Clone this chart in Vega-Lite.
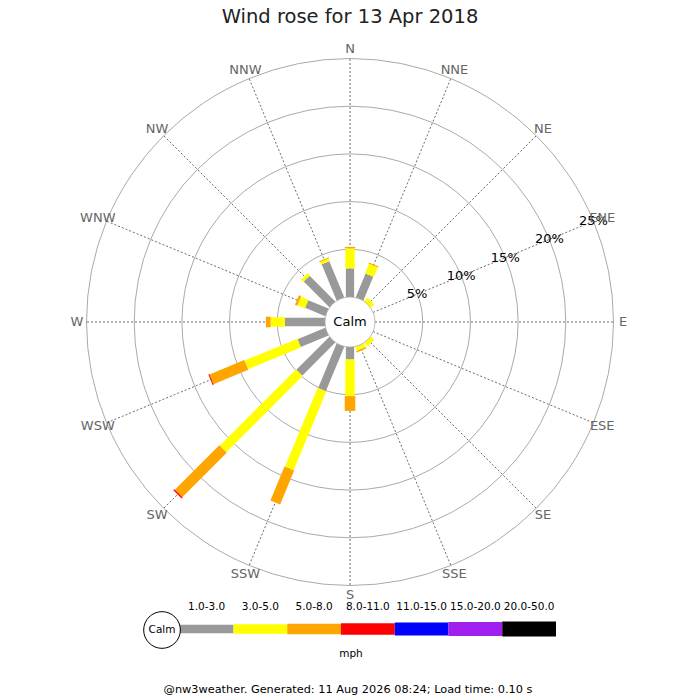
{
  "$schema": "https://vega.github.io/schema/vega-lite/v6.json",
  "width": 700,
  "height": 665,
  "autosize": "none",
  "padding": {"left": 0, "right": 0, "top": 35, "bottom": 0},
  "title": {"text": "Wind rose for 13 Apr 2018", "fontSize": 19.5, "fontWeight": "normal", "color": "#222222", "offset": 8},
  "config": {"view": {"stroke": null}, "font": "DejaVu Sans"},
  "datasets": {
    "dirs": [
      {"dir": "N", "bearing": 0}, {"dir": "NNE", "bearing": 22.5}, {"dir": "NE", "bearing": 45}, {"dir": "ENE", "bearing": 67.5},
      {"dir": "E", "bearing": 90}, {"dir": "ESE", "bearing": 112.5}, {"dir": "SE", "bearing": 135}, {"dir": "SSE", "bearing": 157.5},
      {"dir": "S", "bearing": 180}, {"dir": "SSW", "bearing": 202.5}, {"dir": "SW", "bearing": 225}, {"dir": "WSW", "bearing": 247.5},
      {"dir": "W", "bearing": 270}, {"dir": "WNW", "bearing": 292.5}, {"dir": "NW", "bearing": 315}, {"dir": "NNW", "bearing": 337.5}
    ],
    "freq": [
      {"dir": "N", "bearing": 0, "speed": "1.0-3.0", "order": 1, "pct": 3.0},
      {"dir": "N", "bearing": 0, "speed": "3.0-5.0", "order": 2, "pct": 2.1},
      {"dir": "N", "bearing": 0, "speed": "5.0-8.0", "order": 3, "pct": 0.15},
      {"dir": "NNE", "bearing": 22.5, "speed": "1.0-3.0", "order": 1, "pct": 2.7},
      {"dir": "NNE", "bearing": 22.5, "speed": "3.0-5.0", "order": 2, "pct": 1.1},
      {"dir": "NNE", "bearing": 22.5, "speed": "5.0-8.0", "order": 3, "pct": 0.1},
      {"dir": "NE", "bearing": 45, "speed": "3.0-5.0", "order": 2, "pct": 0.5},
      {"dir": "SE", "bearing": 135, "speed": "3.0-5.0", "order": 2, "pct": 0.5},
      {"dir": "SSE", "bearing": 157.5, "speed": "3.0-5.0", "order": 2, "pct": 0.45},
      {"dir": "SSE", "bearing": 157.5, "speed": "5.0-8.0", "order": 3, "pct": 0.15},
      {"dir": "S", "bearing": 180, "speed": "1.0-3.0", "order": 1, "pct": 1.3},
      {"dir": "S", "bearing": 180, "speed": "3.0-5.0", "order": 2, "pct": 3.85},
      {"dir": "S", "bearing": 180, "speed": "5.0-8.0", "order": 3, "pct": 1.55},
      {"dir": "SSW", "bearing": 202.5, "speed": "1.0-3.0", "order": 1, "pct": 5.05},
      {"dir": "SSW", "bearing": 202.5, "speed": "3.0-5.0", "order": 2, "pct": 8.95},
      {"dir": "SSW", "bearing": 202.5, "speed": "5.0-8.0", "order": 3, "pct": 3.85},
      {"dir": "SW", "bearing": 225, "speed": "1.0-3.0", "order": 1, "pct": 4.9},
      {"dir": "SW", "bearing": 225, "speed": "3.0-5.0", "order": 2, "pct": 11.3},
      {"dir": "SW", "bearing": 225, "speed": "5.0-8.0", "order": 3, "pct": 6.6},
      {"dir": "SW", "bearing": 225, "speed": "8.0-11.0", "order": 4, "pct": 0.15},
      {"dir": "WSW", "bearing": 247.5, "speed": "1.0-3.0", "order": 1, "pct": 3.15},
      {"dir": "WSW", "bearing": 247.5, "speed": "3.0-5.0", "order": 2, "pct": 6.0},
      {"dir": "WSW", "bearing": 247.5, "speed": "5.0-8.0", "order": 3, "pct": 3.95},
      {"dir": "WSW", "bearing": 247.5, "speed": "8.0-11.0", "order": 4, "pct": 0.1},
      {"dir": "W", "bearing": 270, "speed": "1.0-3.0", "order": 1, "pct": 4.2},
      {"dir": "W", "bearing": 270, "speed": "3.0-5.0", "order": 2, "pct": 1.5},
      {"dir": "W", "bearing": 270, "speed": "5.0-8.0", "order": 3, "pct": 0.5},
      {"dir": "WNW", "bearing": 292.5, "speed": "1.0-3.0", "order": 1, "pct": 2.3},
      {"dir": "WNW", "bearing": 292.5, "speed": "3.0-5.0", "order": 2, "pct": 0.85},
      {"dir": "WNW", "bearing": 292.5, "speed": "5.0-8.0", "order": 3, "pct": 0.25},
      {"dir": "NW", "bearing": 315, "speed": "1.0-3.0", "order": 1, "pct": 3.8},
      {"dir": "NW", "bearing": 315, "speed": "3.0-5.0", "order": 2, "pct": 0.35},
      {"dir": "NNW", "bearing": 337.5, "speed": "1.0-3.0", "order": 1, "pct": 4.1},
      {"dir": "NNW", "bearing": 337.5, "speed": "3.0-5.0", "order": 2, "pct": 0.3},
      {"dir": "NNW", "bearing": 337.5, "speed": "5.0-8.0", "order": 3, "pct": 0.1}
    ],
    "rings": [
      {"pct": 0, "label": ""}, {"pct": 5, "label": "5%"}, {"pct": 10, "label": "10%"},
      {"pct": 15, "label": "15%"}, {"pct": 20, "label": "20%"}, {"pct": 25, "label": "25%"}
    ],
    "legend": [
      {"speed": "Calm"}, {"speed": "1.0-3.0"}, {"speed": "3.0-5.0"}, {"speed": "5.0-8.0"},
      {"speed": "8.0-11.0"}, {"speed": "11.0-15.0"}, {"speed": "15.0-20.0"}, {"speed": "20.0-50.0"}
    ],
    "notes": [{"calm": "Calm", "unit": "mph", "footer": "@nw3weather. Generated: 11 Aug 2026 08:24; Load time: 0.10 s"}]
  },
  "resolve": {"scale": {"x": "independent"}},
  "layer": [
    {
      "layer": [
        {
          "data": {"name": "rings"},
          "transform": [{"filter": "datum.pct > 0"}, {"calculate": "25 + 9.54 * datum.pct", "as": "r"}],
          "mark": {"type": "arc", "theta": 0, "theta2": 6.2832, "filled": false, "stroke": "#aaaaaa", "strokeWidth": 1},
          "encoding": {
            "x": {"datum": 0, "type": "quantitative", "scale": {"domain": [-350, 350], "nice": false, "zero": false}, "axis": null},
            "y": {"datum": 0, "type": "quantitative", "scale": {"domain": [-378, 287], "nice": false, "zero": false}, "axis": null},
            "radius": {"field": "r", "type": "quantitative", "scale": null, "stack": null}
          }
        },
        {
          "data": {"name": "dirs"},
          "transform": [
            {"calculate": "datum.bearing * PI / 180", "as": "a"},
            {"calculate": "25 * sin(datum.a)", "as": "x0"},
            {"calculate": "25 * cos(datum.a)", "as": "y0"},
            {"calculate": "263.5 * sin(datum.a)", "as": "x1"},
            {"calculate": "263.5 * cos(datum.a)", "as": "y1"}
          ],
          "mark": {"type": "rule", "color": "#444444", "strokeWidth": 0.8, "strokeDash": [2, 2]},
          "encoding": {
            "x": {"field": "x0", "type": "quantitative", "scale": {"domain": [-350, 350], "nice": false, "zero": false}, "axis": null},
            "y": {"field": "y0", "type": "quantitative", "scale": {"domain": [-378, 287], "nice": false, "zero": false}, "axis": null},
            "x2": {"field": "x1"},
            "y2": {"field": "y1"}
          }
        },
        {
          "data": {"name": "freq"},
          "transform": [
            {"stack": "pct", "groupby": ["dir"], "sort": [{"field": "order", "order": "ascending"}], "as": ["p0", "p1"]},
            {"calculate": "datum.bearing * PI / 180", "as": "a"},
            {"calculate": "(25 + 9.54 * datum.p0) * sin(datum.a)", "as": "x0"},
            {"calculate": "(25 + 9.54 * datum.p0) * cos(datum.a)", "as": "y0"},
            {"calculate": "(25 + 9.54 * datum.p1) * sin(datum.a)", "as": "x1"},
            {"calculate": "(25 + 9.54 * datum.p1) * cos(datum.a)", "as": "y1"}
          ],
          "mark": {"type": "rule", "strokeCap": "butt"},
          "encoding": {
            "x": {"field": "x0", "type": "quantitative", "scale": {"domain": [-350, 350], "nice": false, "zero": false}, "axis": null},
            "y": {"field": "y0", "type": "quantitative", "scale": {"domain": [-378, 287], "nice": false, "zero": false}, "axis": null},
            "x2": {"field": "x1"},
            "y2": {"field": "y1"},
            "color": {"field": "speed", "type": "nominal", "legend": null,
              "scale": {"domain": ["1.0-3.0", "3.0-5.0", "5.0-8.0", "8.0-11.0", "11.0-15.0", "15.0-20.0", "20.0-50.0"],
                        "range": ["#999999", "#ffff00", "#ffa500", "#ff0000", "#0000ff", "#a020f0", "#000000"]}},
            "strokeWidth": {"field": "speed", "type": "ordinal", "legend": null,
              "scale": {"domain": ["1.0-3.0", "3.0-5.0", "5.0-8.0", "8.0-11.0", "11.0-15.0", "15.0-20.0", "20.0-50.0"],
                        "range": [8.3, 15, 20.5, 22.5, 25, 27, 28.3]}}
          }
        },
        {
          "data": {"name": "rings"},
          "transform": [{"filter": "datum.pct == 0"}, {"calculate": "25 + 9.54 * datum.pct", "as": "r"}],
          "mark": {"type": "arc", "theta": 0, "theta2": 6.2832, "fill": "#ffffff", "stroke": "#aaaaaa", "strokeWidth": 0.8},
          "encoding": {
            "x": {"datum": 0, "type": "quantitative", "scale": {"domain": [-350, 350], "nice": false, "zero": false}, "axis": null},
            "y": {"datum": 0, "type": "quantitative", "scale": {"domain": [-378, 287], "nice": false, "zero": false}, "axis": null},
            "radius": {"field": "r", "type": "quantitative", "scale": null, "stack": null}
          }
        },
        {
          "data": {"name": "notes"},
          "mark": {"type": "text", "fontSize": 13, "color": "#000000", "align": "center", "baseline": "middle"},
          "encoding": {
            "x": {"datum": 0, "type": "quantitative", "scale": {"domain": [-350, 350], "nice": false, "zero": false}, "axis": null},
            "y": {"datum": 0, "type": "quantitative", "scale": {"domain": [-378, 287], "nice": false, "zero": false}, "axis": null},
            "text": {"field": "calm"}
          }
        },
        {
          "data": {"name": "rings"},
          "transform": [
            {"filter": "datum.pct > 0"},
            {"calculate": "25 + 9.54 * datum.pct", "as": "r"},
            {"calculate": "datum.r * sin(67.5 * PI / 180)", "as": "lx"},
            {"calculate": "datum.r * cos(67.5 * PI / 180)", "as": "ly"}
          ],
          "mark": {"type": "text", "fontSize": 13, "color": "#000000", "align": "center", "baseline": "middle"},
          "encoding": {
            "x": {"field": "lx", "type": "quantitative", "scale": {"domain": [-350, 350], "nice": false, "zero": false}, "axis": null},
            "y": {"field": "ly", "type": "quantitative", "scale": {"domain": [-378, 287], "nice": false, "zero": false}, "axis": null},
            "text": {"field": "label"}
          }
        },
        {
          "data": {"name": "dirs"},
          "transform": [
            {"calculate": "datum.bearing * PI / 180", "as": "a"},
            {"calculate": "273 * sin(datum.a)", "as": "lx"},
            {"calculate": "273 * cos(datum.a)", "as": "ly"}
          ],
          "mark": {"type": "text", "fontSize": 13, "color": "#666666", "align": "center", "baseline": "middle"},
          "encoding": {
            "x": {"field": "lx", "type": "quantitative", "scale": {"domain": [-350, 350], "nice": false, "zero": false}, "axis": null},
            "y": {"field": "ly", "type": "quantitative", "scale": {"domain": [-378, 287], "nice": false, "zero": false}, "axis": null},
            "text": {"field": "dir"}
          }
        },
        {
          "data": {"name": "notes"},
          "mark": {"type": "text", "fontSize": 10.5, "color": "#000000", "align": "center", "baseline": "middle"},
          "encoding": {
            "x": {"datum": 1, "type": "quantitative", "scale": {"domain": [-350, 350], "nice": false, "zero": false}, "axis": null},
            "y": {"datum": -332, "type": "quantitative", "scale": {"domain": [-378, 287], "nice": false, "zero": false}, "axis": null},
            "text": {"field": "unit"}
          }
        },
        {
          "data": {"name": "notes"},
          "mark": {"type": "text", "fontSize": 11.3, "color": "#000000", "align": "center", "baseline": "middle"},
          "encoding": {
            "x": {"datum": -2, "type": "quantitative", "scale": {"domain": [-350, 350], "nice": false, "zero": false}, "axis": null},
            "y": {"datum": -368, "type": "quantitative", "scale": {"domain": [-378, 287], "nice": false, "zero": false}, "axis": null},
            "text": {"field": "footer"}
          }
        }
      ]
    },
    {
      "data": {"name": "legend"},
      "layer": [
        {
          "transform": [{"filter": "datum.speed != 'Calm'"}],
          "mark": {"type": "rule", "strokeCap": "butt"},
          "encoding": {
            "x": {"field": "speed", "type": "nominal", "bandPosition": 0, "axis": null,
              "scale": {"type": "band", "domain": ["Calm", "1.0-3.0", "3.0-5.0", "5.0-8.0", "8.0-11.0", "11.0-15.0", "15.0-20.0", "20.0-50.0"], "range": [126, 556], "paddingInner": 0, "paddingOuter": 0}},
            "x2": {"field": "speed", "bandPosition": 1},
            "y": {"datum": -307, "type": "quantitative", "scale": {"domain": [-378, 287], "nice": false, "zero": false}, "axis": null},
            "color": {"field": "speed", "type": "nominal", "legend": null,
              "scale": {"domain": ["1.0-3.0", "3.0-5.0", "5.0-8.0", "8.0-11.0", "11.0-15.0", "15.0-20.0", "20.0-50.0"],
                        "range": ["#999999", "#ffff00", "#ffa500", "#ff0000", "#0000ff", "#a020f0", "#000000"]}},
            "strokeWidth": {"field": "speed", "type": "ordinal", "legend": null,
              "scale": {"domain": ["1.0-3.0", "3.0-5.0", "5.0-8.0", "8.0-11.0", "11.0-15.0", "15.0-20.0", "20.0-50.0"],
                        "range": [8.3, 15, 20.5, 22.5, 25, 27, 28.3]}}
          }
        },
        {
          "transform": [{"filter": "datum.speed != 'Calm'"}],
          "mark": {"type": "text", "fontSize": 10.5, "color": "#000000", "align": "center", "baseline": "middle"},
          "encoding": {
            "x": {"field": "speed", "type": "nominal", "bandPosition": 0.5, "axis": null,
              "scale": {"type": "band", "domain": ["Calm", "1.0-3.0", "3.0-5.0", "5.0-8.0", "8.0-11.0", "11.0-15.0", "15.0-20.0", "20.0-50.0"], "range": [126, 556], "paddingInner": 0, "paddingOuter": 0}},
            "y": {"datum": -285, "type": "quantitative", "scale": {"domain": [-378, 287], "nice": false, "zero": false}, "axis": null},
            "text": {"field": "speed"}
          }
        },
        {
          "transform": [{"filter": "datum.speed == 'Calm'"}],
          "mark": {"type": "point", "shape": "circle", "size": 1345, "filled": true, "fill": "#ffffff", "stroke": "#000000", "strokeWidth": 1, "opacity": 1},
          "encoding": {
            "x": {"field": "speed", "type": "nominal", "bandPosition": 0.67, "axis": null,
              "scale": {"type": "band", "domain": ["Calm", "1.0-3.0", "3.0-5.0", "5.0-8.0", "8.0-11.0", "11.0-15.0", "15.0-20.0", "20.0-50.0"], "range": [126, 556], "paddingInner": 0, "paddingOuter": 0}},
            "y": {"datum": -308, "type": "quantitative", "scale": {"domain": [-378, 287], "nice": false, "zero": false}, "axis": null}
          }
        },
        {
          "transform": [{"filter": "datum.speed == 'Calm'"}],
          "mark": {"type": "text", "fontSize": 10.5, "color": "#000000", "align": "center", "baseline": "middle"},
          "encoding": {
            "x": {"field": "speed", "type": "nominal", "bandPosition": 0.67, "axis": null,
              "scale": {"type": "band", "domain": ["Calm", "1.0-3.0", "3.0-5.0", "5.0-8.0", "8.0-11.0", "11.0-15.0", "15.0-20.0", "20.0-50.0"], "range": [126, 556], "paddingInner": 0, "paddingOuter": 0}},
            "y": {"datum": -308, "type": "quantitative", "scale": {"domain": [-378, 287], "nice": false, "zero": false}, "axis": null},
            "text": {"field": "speed"}
          }
        }
      ]
    }
  ]
}
